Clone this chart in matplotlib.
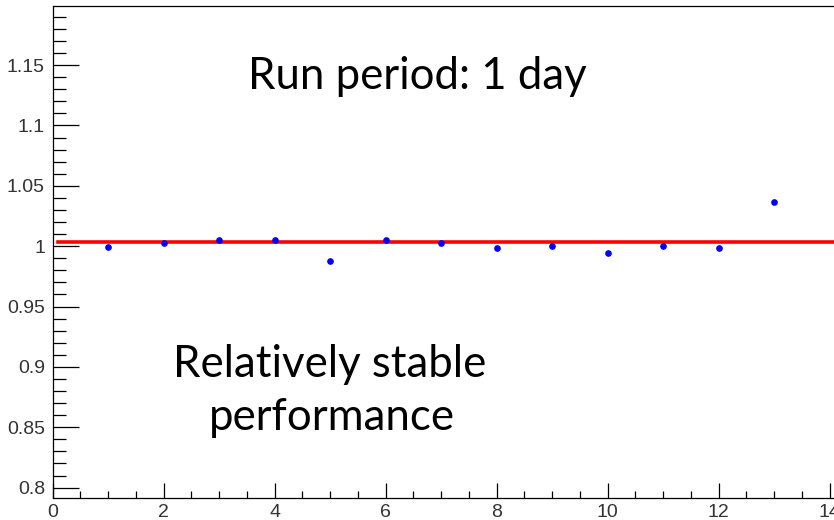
import matplotlib.pyplot as plt
from matplotlib.ticker import MultipleLocator

# daily runs and their normalised response
run_index = [1, 2, 3, 4, 5, 6, 7, 8, 9, 10, 11, 12, 13]
response = [0.9995, 1.0027, 1.005, 1.005, 0.9876, 1.005, 1.003,
            0.9985, 1.0, 0.9942, 1.0, 0.9985, 1.0367]
fit_level = 1.0032
fit_range = [0.09, 14.2]

W, H = 834, 520
fig = plt.figure(figsize=(W / 100, H / 100), dpi=100)
ax = fig.add_axes([0.063, 0.043, 0.937, 0.9455])

ax.plot(fit_range, [fit_level, fit_level], color="red", lw=2.6, zorder=2)
ax.plot(run_index, response, ls="none", marker="o", ms=3.8,
        color="blue", zorder=3)

ax.set_xlim(0, 14.08)
ax.set_ylim(0.7917, 1.199)

ax.xaxis.set_major_locator(MultipleLocator(2))
ax.xaxis.set_minor_locator(MultipleLocator(0.5))
ax.yaxis.set_major_locator(MultipleLocator(0.05))
ax.yaxis.set_minor_locator(MultipleLocator(0.01))
ax.yaxis.set_major_formatter(plt.FuncFormatter(lambda v, p: f"{v:g}"))
ax.xaxis.set_major_formatter(plt.FuncFormatter(lambda v, p: f"{v:g}"))

ax.tick_params(axis="y", which="major", direction="in", length=19, width=0.9,
               pad=5.5)
ax.tick_params(axis="y", which="minor", direction="in", length=9.5, width=0.9)
ax.tick_params(axis="x", which="major", direction="in", length=11, width=0.9,
               pad=4.5)
ax.tick_params(axis="x", which="minor", direction="in", length=5, width=0.9)
ax.tick_params(labelsize=14, labelcolor="#333333")
for lab in ax.get_xticklabels() + ax.get_yticklabels():
    lab.set_family("Liberation Sans")

ax.spines["right"].set_visible(False)
for s in ["left", "bottom", "top"]:
    ax.spines[s].set_linewidth(0.9)


def label(x, y_top, s):
    # place text by pixel position measured from the top-left corner
    ax.text(x, H - y_top, s, transform=None, fontsize=31.5, family="Lato",
            ha="center", va="baseline")


label(417, 89, "Run period: 1 day")
label(330, 377, "Relatively stable")
label(332, 430, "performance")

fig.savefig("out.png", dpi=100)
